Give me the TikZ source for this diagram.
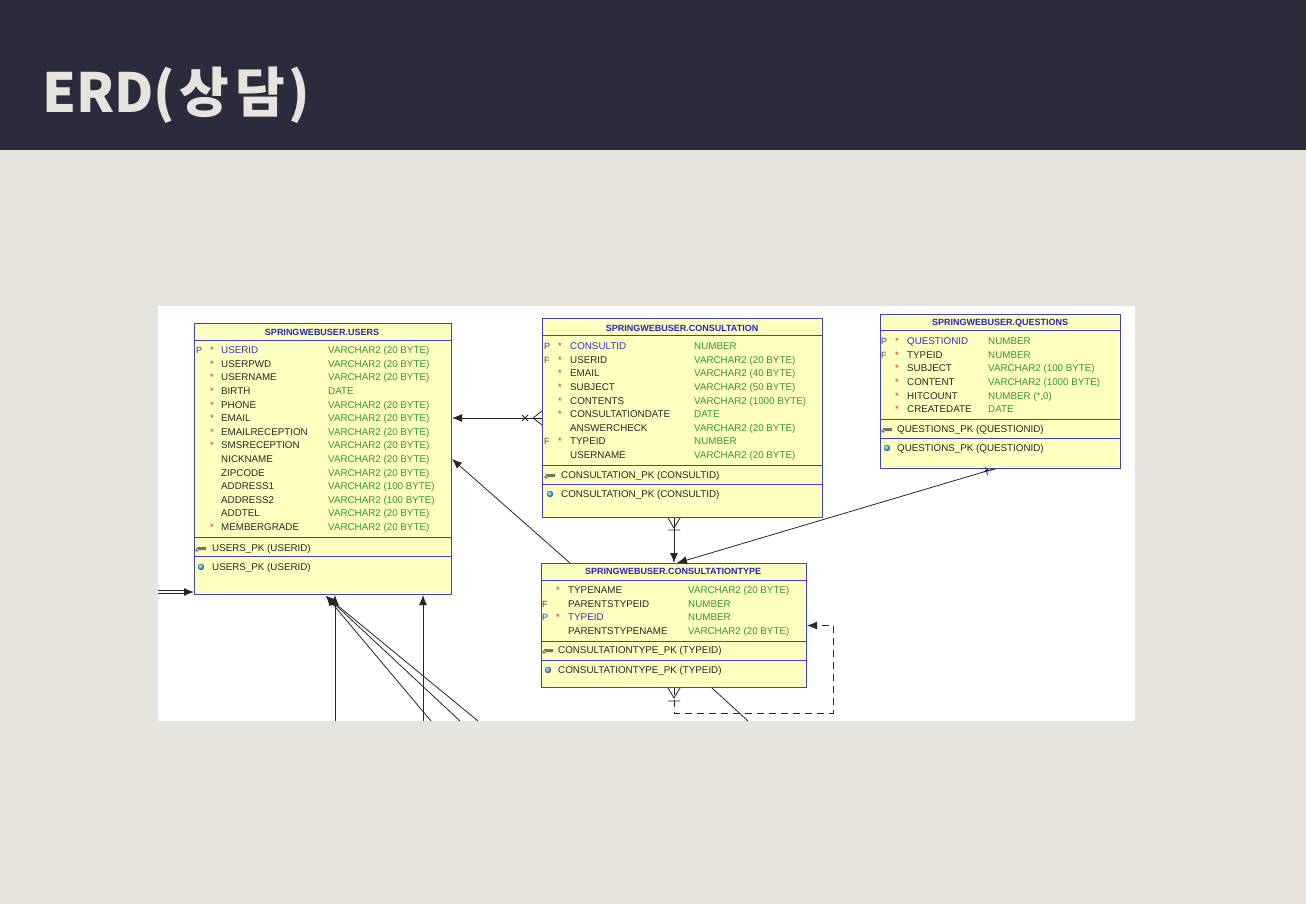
\documentclass[tikz,border=0pt]{standalone}
\usepackage{fontspec}
\setmainfont{Liberation Sans}
\newfontfamily\titlefont{Noto Sans CJK KR}
\usetikzlibrary{arrows.meta}

\definecolor{barbg}{HTML}{2C2B3D}
\definecolor{pagebg}{HTML}{E7E3DD}
\definecolor{tabfill}{HTML}{FFFFC0}
\definecolor{tabline}{HTML}{4040D0}
\definecolor{headblue}{HTML}{2424C8}
\definecolor{typegreen}{HTML}{2E9A2E}
\definecolor{starred}{HTML}{E02020}
\definecolor{pkblue}{HTML}{3030D0}
\newcommand{\pk}{\color{pkblue}}
\def\hitnum{NUMBER (*,0)}

\tikzset{
  tablebox/.style={draw=tabline, fill=tabfill, line width=1pt, inner sep=0pt, anchor=north west},
  tablehead/.style={font=\fontsize{9}{10}\selectfont\bfseries, text=headblue, inner sep=0pt},
  colname/.style={font=\fontsize{9.8}{11}\selectfont, text=black!85, anchor=base west, inner sep=0pt},
  coltype/.style={colname, text=typegreen},
  keymark/.style={colname, font=\fontsize{9}{10}\selectfont},
  starmark/.style={colname, text=starred, font=\fontsize{9.5}{10}\selectfont},
  sepline/.style={draw=tabline, line width=1pt},
  keyicon/.style={fill=black!55},
  idxicon/.style={ball color=cyan!60!blue!70},
  rel/.style={line width=0.8pt, draw=black!85},
  tip/.style={-{Latex[length=10pt,width=8pt]}},
}

\begin{document}
\begin{tikzpicture}[x=1pt,y=-1pt]
\useasboundingbox (0,0) rectangle (1306,904);
\fill[pagebg] (0,0) rectangle (1306,904);
\fill[barbg] (0,0) rectangle (1306,150);
\node[anchor=base west, text=pagebg, inner sep=0pt, font=\titlefont\bfseries\fontsize{54}{60}\selectfont] (title) at (42,113) {ERD(\hspace{4pt}상\hspace{6pt}담\hspace{4pt})};
\fill[white] (158,306) rectangle (1135,721);

% users
\node[tablebox, minimum width=257, minimum height=271] (users) at (194,323) {};
\node[tablehead] (users-h) at (322,332) {SPRINGWEBUSER.USERS};
\draw[sepline] (194,340) -- (451,340) (194,537) -- (451,537) (194,556) -- (451,556);
\foreach \n/\t [count=\i] in {\pk USERID/VARCHAR2 (20 BYTE), USERPWD/VARCHAR2 (20 BYTE),
    USERNAME/VARCHAR2 (20 BYTE), BIRTH/DATE, PHONE/VARCHAR2 (20 BYTE), EMAIL/VARCHAR2 (20 BYTE),
    EMAILRECEPTION/VARCHAR2 (20 BYTE), SMSRECEPTION/VARCHAR2 (20 BYTE), NICKNAME/VARCHAR2 (20 BYTE),
    ZIPCODE/VARCHAR2 (20 BYTE), ADDRESS1/VARCHAR2 (100 BYTE), ADDRESS2/VARCHAR2 (100 BYTE),
    ADDTEL/VARCHAR2 (20 BYTE), MEMBERGRADE/VARCHAR2 (20 BYTE)}{
  \node[colname] (users-n\i) at (221,340+13.6*\i) {\n};
  \node[coltype] (users-t\i) at (328,340+13.6*\i) {\t};
}
\foreach \i in {1,...,8,14}
  \node[starmark] at (210,340+13.6*\i) {*};
\node[keymark, text=pkblue] at (196,353.6) {P};
\fill[keyicon] (197,547) rectangle (206,550) (197,550) circle (1.8);
\node[colname] (users-pk) at (212,551.5) {USERS\_PK (USERID)};
\shade[idxicon] (201,567) circle (3.2);
\node[colname] (users-ix) at (212,570.5) {USERS\_PK (USERID)};

% consultation
\node[tablebox, minimum width=280, minimum height=199] (consult) at (542,318) {};
\node[tablehead] (consult-h) at (682,328) {SPRINGWEBUSER.CONSULTATION};
\draw[sepline] (542,335) -- (822,335) (542,465) -- (822,465) (542,484) -- (822,484);
\foreach \n/\t [count=\i] in {\pk CONSULTID/NUMBER, USERID/VARCHAR2 (20 BYTE), EMAIL/VARCHAR2 (40 BYTE),
    SUBJECT/VARCHAR2 (50 BYTE), CONTENTS/VARCHAR2 (1000 BYTE), CONSULTATIONDATE/DATE,
    ANSWERCHECK/VARCHAR2 (20 BYTE), TYPEID/NUMBER, USERNAME/VARCHAR2 (20 BYTE)}{
  \node[colname] (consult-n\i) at (570,336+13.6*\i) {\n};
  \node[coltype] (consult-t\i) at (694,336+13.6*\i) {\t};
}
\foreach \i in {1,...,6,8}
  \node[starmark] at (558,336+13.6*\i) {*};
\node[keymark, text=pkblue] at (544,349.6) {P};
\node[keymark, text=black!70] at (544,363.2) {F};
\node[keymark, text=black!70] at (544,444.8) {F};
\fill[keyicon] (546,474) rectangle (555,477) (546,477) circle (1.8);
\node[colname] (consult-pk) at (561,478.5) {CONSULTATION\_PK (CONSULTID)};
\shade[idxicon] (550,494) circle (3.2);
\node[colname] (consult-ix) at (561,497.5) {CONSULTATION\_PK (CONSULTID)};

% questions
\node[tablebox, minimum width=240, minimum height=154] (questions) at (880,314) {};
\node[tablehead] (questions-h) at (1000,323) {SPRINGWEBUSER.QUESTIONS};
\draw[sepline] (880,330) -- (1120,330) (880,419) -- (1120,419) (880,438) -- (1120,438);
\foreach \n/\t [count=\i] in {\pk QUESTIONID/NUMBER, TYPEID/NUMBER, SUBJECT/VARCHAR2 (100 BYTE),
    CONTENT/VARCHAR2 (1000 BYTE), HITCOUNT/\hitnum, CREATEDATE/DATE}{
  \node[colname] (questions-n\i) at (907,331+13.6*\i) {\n};
  \node[coltype] (questions-t\i) at (988,331+13.6*\i) {\t};
}
\foreach \i in {1,...,6}
  \node[starmark] at (895,331+13.6*\i) {*};
\node[keymark, text=pkblue] at (881,344.6) {P};
\node[keymark, text=black!70] at (881,358.2) {F};
\fill[keyicon] (883,428) rectangle (892,431) (883,431) circle (1.8);
\node[colname] (questions-pk) at (897,432.5) {QUESTIONS\_PK (QUESTIONID)};
\shade[idxicon] (887,448) circle (3.2);
\node[colname] (questions-ix) at (897,451.5) {QUESTIONS\_PK (QUESTIONID)};

% consultationtype
\node[tablebox, minimum width=265, minimum height=124] (ctype) at (541,563) {};
\node[tablehead] (ctype-h) at (673,571) {SPRINGWEBUSER.CONSULTATIONTYPE};
\draw[sepline] (541,580) -- (806,580) (541,641) -- (806,641) (541,660) -- (806,660);
\foreach \n/\t [count=\i] in {TYPENAME/VARCHAR2 (20 BYTE), PARENTSTYPEID/NUMBER,
    \pk TYPEID/NUMBER, PARENTSTYPENAME/VARCHAR2 (20 BYTE)}{
  \node[colname] (ctype-n\i) at (568,580+13.6*\i) {\n};
  \node[coltype] (ctype-t\i) at (688,580+13.6*\i) {\t};
}
\foreach \i in {1,3}
  \node[starmark] at (556,580+13.6*\i) {*};
\node[keymark, text=black!70] at (542,607.2) {F};
\node[keymark, text=pkblue] at (542,620.8) {P};
\fill[keyicon] (544,649) rectangle (553,652) (544,652) circle (1.8);
\node[colname] (ctype-pk) at (558,653.5) {CONSULTATIONTYPE\_PK (TYPEID)};
\shade[idxicon] (548,670) circle (3.2);
\node[colname] (ctype-ix) at (558,673.5) {CONSULTATIONTYPE\_PK (TYPEID)};

% cut ends at the panel edge
\coordinate (left-in) at (158,592);
\coordinate (cut-a) at (335,721);
\coordinate (cut-b) at (423,721);
\coordinate (cut-c) at (431,721);
\coordinate (cut-d) at (460,721);
\coordinate (cut-e) at (478,721);
\coordinate (cut-f) at (748,721);

% relations
\draw[rel,tip] (consult.west) -- (consult.west -| users.east);
\draw[rel] ([yshift=7pt]consult.west) -- ++(-9,7) -- ++(9,7);
\draw[rel] ([xshift=-17pt]consult.west) +(-3,-3) -- +(3,3) +(-3,3) -- +(3,-3);
\draw[rel,tip] ([xshift=29pt]ctype.north west) -- (users.east);
\draw[rel,tip] (consult.south -| ctype.north) -- (ctype.north);
\draw[rel] ([xshift=-6pt]consult.south -| ctype.north) -- ++(6,10) -- ++(6,-10)
  ([xshift=-6pt,yshift=-12pt]consult.south -| ctype.north) -- ++(12,0);
\draw[rel,tip] ([xshift=-7pt]questions.south) -- ([xshift=3pt]ctype.north);
\draw[rel] ([xshift=-7pt]questions.south) ++(-10,3) -- ++(5,-3) ++(-5,3) -- ++(12,-3)
  ([xshift=-7pt]questions.south) ++(-6,6) -- ++(-2,-8);
\draw[rel,tip,dash pattern=on 7pt off 5pt] (ctype.south) -- ++(0,25) -| ([xshift=26pt]ctype.east) -- (ctype.east);
\draw[rel] ([xshift=-6pt]ctype.south) -- ++(6,10) -- ++(6,-10)
  ([xshift=-6pt,yshift=-13pt]ctype.south) -- ++(12,0);
\draw[rel] ([xshift=38pt]ctype.south) -- (cut-f);
\draw[rel,tip,double,double distance=2pt] (left-in) -- (left-in -| users.west);
\draw[rel,tip] (cut-a) -- (cut-a |- users.south);
\draw[rel,tip] (cut-b) -- (cut-b |- users.south);
\draw[rel,tip] (cut-c) -- ([xshift=132pt,yshift=-1pt]users.south west);
\draw[rel,tip] (cut-d) -- ([xshift=132pt,yshift=-1pt]users.south west);
\draw[rel,tip] (cut-e) -- ([xshift=132pt,yshift=-1pt]users.south west);
\end{tikzpicture}
\end{document}
